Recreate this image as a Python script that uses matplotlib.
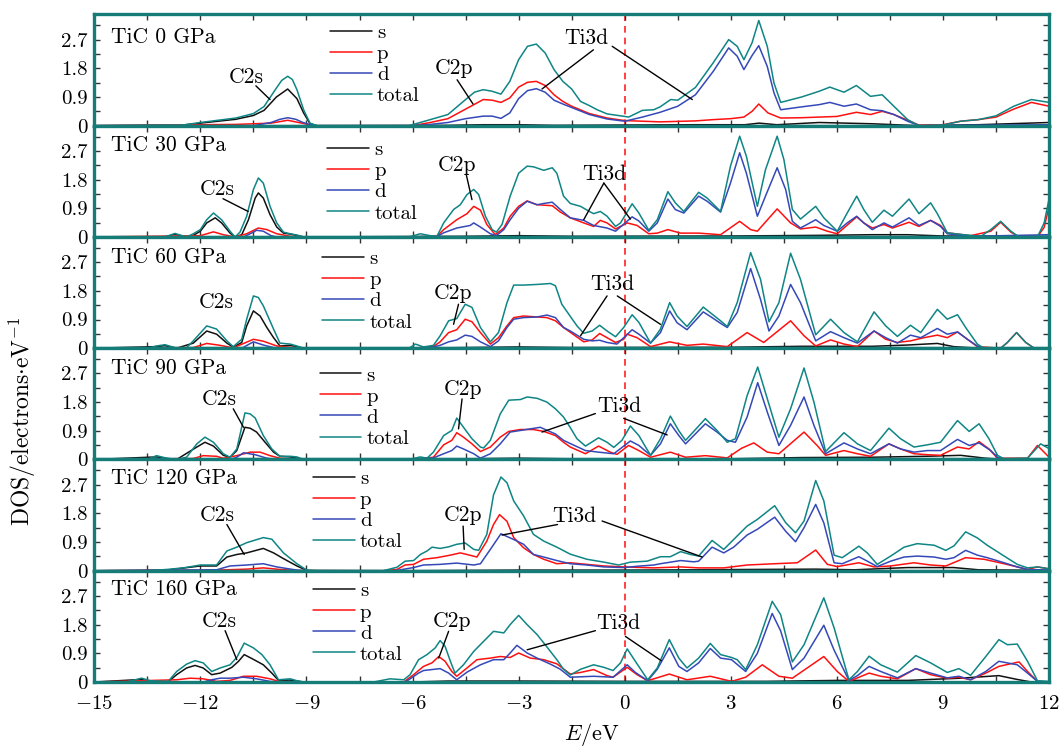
import numpy as np
import matplotlib
matplotlib.use('Agg')
import matplotlib.pyplot as plt
from matplotlib.ticker import MultipleLocator, FuncFormatter

# (E [eV], DOS) pairs, one list per curve and pressure
tot_0 = [(-15, 0), (-12.5, 0.02), (-12, 0.1), (-11, 0.24), (-10.5, 0.38), (-10.2, 0.6), (-9.85, 1.18), (-9.7, 1.42),
         (-9.53, 1.55), (-9.4, 1.45), (-9.27, 1.13), (-9.08, 0.5), (-8.9, 0.08), (-8.7, 0), (-6.1, 0), (-5.5, 0.19),
         (-5, 0.35), (-4.5, 0.82), (-4.25, 1.05), (-4, 1.13), (-3.75, 1.08), (-3.5, 0.99), (-3.25, 1.39), (-3, 2.07),
         (-2.75, 2.49), (-2.5, 2.56), (-2.25, 2.28), (-2, 1.76), (-1.75, 1.39), (-1.5, 1.15), (-1.25, 0.76), (-1, 0.63),
         (-0.78, 0.5), (-0.5, 0.37), (0, 0.29), (0.11, 0.27), (0.5, 0.48), (0.82, 0.5), (1, 0.59), (1.3, 0.82),
         (1.5, 0.8), (2, 1.2), (2.5, 1.97), (2.94, 2.7), (3.18, 2.49), (3.37, 2.07), (3.6, 2.6), (3.79, 3.3),
         (4.03, 2.49), (4.22, 1.34), (4.41, 0.73), (5, 0.9), (5.5, 1.08), (5.8, 1.21), (6.2, 1.05), (6.55, 1.26),
         (6.95, 0.92), (7.28, 0.97), (7.61, 0.61), (8, 0.19), (8.32, 0), (9, 0.02), (9.5, 0.14), (10, 0.19),
         (10.5, 0.31), (11, 0.61), (11.5, 0.82), (12, 0.73)]
d_0 = [(-15, 0), (-10.5, 0), (-10, 0.1), (-9.75, 0.2), (-9.53, 0.25), (-9.3, 0.2), (-9.1, 0.1), (-8.8, 0), (-6, 0),
       (-5.5, 0.04), (-5, 0.1), (-4.5, 0.22), (-4, 0.3), (-3.75, 0.3), (-3.5, 0.23), (-3.25, 0.4), (-3, 0.85),
       (-2.75, 1.1), (-2.5, 1.16), (-2.25, 1.05), (-2, 0.8), (-1.75, 0.68), (-1.5, 0.57), (-1, 0.35), (-0.5, 0.21),
       (0, 0.14), (0.5, 0.27), (1, 0.42), (1.5, 0.61), (2, 0.97), (2.5, 1.7), (2.94, 2.44), (3.18, 2.18),
       (3.37, 1.76), (3.6, 2.2), (3.79, 2.51), (4.03, 1.86), (4.22, 1.03), (4.41, 0.5), (5, 0.59), (5.5, 0.66),
       (5.8, 0.73), (6.2, 0.61), (6.55, 0.68), (6.95, 0.5), (7.28, 0.47), (7.61, 0.35), (8, 0.14), (8.32, 0),
       (12, 0.03)]
p_0 = [(-15, 0), (-11, 0.04), (-10, 0.08), (-9.53, 0.17), (-9, 0.05), (-8.8, 0), (-6, 0), (-5.5, 0.1), (-5, 0.22),
       (-4.5, 0.52), (-4, 0.82), (-3.75, 0.8), (-3.5, 0.73), (-3.25, 0.87), (-3, 1.21), (-2.75, 1.36), (-2.5, 1.39),
       (-2.25, 1.26), (-2, 0.97), (-1.75, 0.76), (-1.5, 0.61), (-1, 0.38), (-0.5, 0.24), (0, 0.16), (0.5, 0.14),
       (1, 0.12), (2, 0.15), (2.5, 0.19), (3, 0.22), (3.37, 0.27), (3.6, 0.45), (3.79, 0.68), (4.05, 0.4),
       (4.41, 0.24), (5, 0.25), (5.5, 0.27), (6, 0.29), (6.55, 0.42), (6.95, 0.35), (7.28, 0.45), (7.61, 0.35),
       (8, 0.17), (8.32, 0.02), (9, 0.03), (9.5, 0.14), (10, 0.19), (10.5, 0.27), (11, 0.52), (11.5, 0.73),
       (12, 0.61)]
s_0 = [(-15, 0), (-12.5, 0.02), (-12, 0.08), (-11, 0.2), (-10.5, 0.32), (-10.2, 0.48), (-9.85, 0.9), (-9.53, 1.15),
       (-9.27, 0.85), (-9.08, 0.4), (-8.9, 0.06), (-8.7, 0), (-5, 0.01), (-4, 0.03), (-3, 0.03), (-2, 0.01),
       (0, 0.02), (2, 0.03), (3.4, 0.03), (3.8, 0.08), (4.3, 0.03), (5.5, 0.1), (7, 0.06), (8.3, 0), (10, 0.03),
       (12, 0.1)]

tot_30 = [(-15, 0), (-13.0, 0), (-12.72, 0.11), (-12.39, 0), (-12.2, 0.1), (-12, 0.23), (-11.82, 0.54),
          (-11.63, 0.75), (-11.4, 0.54), (-11.16, 0.18), (-11.02, 0), (-10.88, 0.15), (-10.69, 0.65), (-10.5, 1.49),
          (-10.36, 1.85), (-10.22, 1.69), (-10.03, 0.96), (-9.84, 0.44), (-9.65, 0.15), (-9.46, 0.1), (-9.27, 0.06),
          (-9.08, 0), (-6.1, 0), (-5.78, 0.1), (-5.5, 0.04), (-5.31, 0.02), (-5.12, 0.44), (-4.84, 0.86),
          (-4.65, 1.01), (-4.46, 1.33), (-4.27, 1.49), (-4.13, 1.33), (-3.94, 0.65), (-3.75, 0.23), (-3.63, 0.15),
          (-3.47, 0.39), (-3.24, 1.28), (-3, 2.0), (-2.76, 2.22), (-2.58, 2.2), (-2.29, 2.09), (-2.05, 2.17),
          (-1.92, 2.0), (-1.73, 1.28), (-1.54, 1.05), (-1.25, 0.96), (-1, 0.8), (-0.88, 0.73), (-0.69, 0.8),
          (-0.5, 0.65), (-0.26, 0.33), (-0.12, 0.44), (0.21, 1.04), (0.4, 0.75), (0.68, 0.21), (0.92, 0.54),
          (1.22, 1.42), (1.43, 1.07), (1.67, 0.8), (2.09, 1.4), (2.33, 1.22), (2.71, 0.8), (2.99, 2.22), (3.25, 3.16),
          (3.44, 2.53), (3.75, 0.96), (3.98, 2.11), (4.31, 3.16), (4.5, 2.43), (4.74, 0.86), (4.97, 0.56), (5.4, 0.96),
          (5.63, 0.6), (6.01, 0.18), (6.29, 0.75), (6.56, 1.28), (6.76, 0.86), (7.0, 0.46), (7.33, 0.84),
          (7.57, 0.65), (8.04, 1.19), (8.32, 0.73), (8.65, 1.07), (8.84, 0.73), (9.12, 0.13), (9.59, 0.07),
          (10.07, 0.02), (10.35, 0.23), (10.63, 0.49), (10.92, 0.18), (11.15, 0), (11.67, 0), (11.86, 0.44),
          (12, 1.2)]
d_30 = [(-15, 0), (-10.78, 0), (-10.5, 0.15), (-10.41, 0.21), (-10.22, 0.18), (-10.0, 0.04), (-9.84, 0), (-6, 0),
        (-5.3, 0.02), (-5.12, 0.13), (-4.75, 0.28), (-4.37, 0.36), (-4.27, 0.44), (-4.08, 0.31), (-3.8, 0.1),
        (-3.63, 0.04), (-3.42, 0.23), (-3.24, 0.54), (-3.0, 0.9), (-2.76, 1.12), (-2.48, 1.01), (-2.29, 1.05),
        (-2.05, 1.09), (-1.82, 0.86), (-1.54, 0.6), (-1.16, 0.52), (-0.88, 0.36), (-0.5, 0.28), (-0.26, 0.18),
        (0.21, 0.63), (0.4, 0.5), (0.68, 0.18), (0.92, 0.44), (1.22, 1.19), (1.43, 0.86), (1.67, 0.75), (2.09, 1.28),
        (2.33, 1.12), (2.71, 0.78), (2.99, 1.69), (3.25, 2.64), (3.44, 2.0), (3.75, 0.65), (3.98, 1.28),
        (4.31, 2.17), (4.55, 1.49), (4.74, 0.49), (4.97, 0.28), (5.4, 0.54), (5.63, 0.36), (6.01, 0.18),
        (6.29, 0.44), (6.56, 0.65), (6.76, 0.44), (7.0, 0.23), (7.33, 0.44), (7.57, 0.31), (8.04, 0.6), (8.32, 0.36),
        (8.65, 0.52), (8.93, 0.33), (9.12, 0.1), (9.78, 0.02), (12, 0.07)]
p_30 = [(-15, 0), (-12, 0.04), (-11.63, 0.16), (-11.35, 0.07), (-11.02, 0), (-10.69, 0.1), (-10.36, 0.28),
        (-10.12, 0.23), (-9.84, 0.1), (-9.46, 0.02), (-9.0, 0), (-6, 0), (-5.31, 0.02), (-5.12, 0.23), (-4.75, 0.54),
        (-4.46, 0.73), (-4.27, 0.96), (-4.08, 0.84), (-3.9, 0.39), (-3.66, 0.07), (-3.42, 0.28), (-3.24, 0.65),
        (-3.0, 0.96), (-2.76, 1.13), (-2.48, 1.01), (-2.05, 0.98), (-1.82, 0.78), (-1.54, 0.6), (-1.16, 0.44),
        (-0.88, 0.33), (-0.69, 0.52), (-0.5, 0.44), (-0.26, 0.25), (0.07, 0.44), (0.35, 0.36), (0.68, 0.1),
        (0.92, 0.12), (1.22, 0.23), (1.58, 0.12), (2.09, 0.12), (2.71, 0.07), (3.25, 0.49), (3.56, 0.23),
        (3.75, 0.18), (4.31, 0.88), (4.69, 0.44), (4.97, 0.25), (5.4, 0.31), (5.73, 0.18), (6.01, 0.1), (6.56, 0.63),
        (6.76, 0.44), (7.0, 0.28), (7.33, 0.39), (7.57, 0.28), (8.04, 0.46), (8.32, 0.33), (8.65, 0.52),
        (8.93, 0.36), (9.12, 0.13), (9.78, 0.04), (10.35, 0.18), (10.63, 0.46), (10.92, 0.15), (11.15, 0),
        (11.67, 0), (11.86, 0.3), (12, 0.96)]
s_30 = [(-15, 0), (-13.0, 0), (-12.72, 0.08), (-12.39, 0), (-12.2, 0.05), (-12, 0.18), (-11.82, 0.44),
        (-11.58, 0.6), (-11.4, 0.44), (-11.16, 0.12), (-11.02, 0), (-10.83, 0.07), (-10.64, 0.54), (-10.45, 1.22),
        (-10.36, 1.38), (-10.22, 1.22), (-10.03, 0.7), (-9.84, 0.31), (-9.65, 0.12), (-9.46, 0.09), (-9.08, 0),
        (-4.5, 0.02), (-3, 0.04), (-1.5, 0.02), (3.0, 0.03), (5.5, 0.05), (7, 0.07), (8, 0.07), (9, 0.03),
        (12, 0.02)]

tot_60 = [(-15, 0), (-13.5, 0), (-13.24, 0.07), (-13.0, 0.11), (-12.67, 0), (-12.39, 0.02), (-12.2, 0.23),
          (-11.82, 0.7), (-11.54, 0.6), (-11.25, 0.23), (-11.07, 0.05), (-10.83, 0.28), (-10.69, 0.91), (-10.5, 1.64),
          (-10.36, 1.59), (-10.22, 1.33), (-9.93, 0.6), (-9.75, 0.16), (-9.46, 0.13), (-9.27, 0.07), (-9.08, 0),
          (-6.1, 0), (-5.92, 0.13), (-5.69, 0.04), (-5.41, 0.09), (-5.22, 0.39), (-4.98, 0.86), (-4.75, 0.93),
          (-4.51, 1.38), (-4.32, 1.28), (-4.08, 0.65), (-3.8, 0.2), (-3.57, 0.49), (-3.33, 1.43), (-3.14, 1.98),
          (-2.86, 1.98), (-2.48, 2.0), (-2.1, 2.03), (-1.96, 1.96), (-1.78, 1.38), (-1.54, 1.0), (-1.35, 0.7),
          (-1.16, 0.47), (-0.92, 0.54), (-0.71, 0.72), (-0.5, 0.54), (-0.26, 0.36), (-0.03, 0.65), (0.21, 1.05),
          (0.4, 0.81), (0.73, 0.16), (1.01, 0.6), (1.27, 1.43), (1.48, 1.01), (1.76, 0.68), (2.22, 1.29), (2.47, 1.07),
          (2.71, 0.86), (2.9, 0.68), (3.18, 1.43), (3.56, 3.0), (3.84, 2.16), (4.08, 0.83), (4.36, 1.43), (4.69, 2.98),
          (4.97, 2.16), (5.4, 0.42), (5.82, 0.91), (6.2, 0.49), (6.58, 0.2), (7.05, 1.14), (7.38, 0.7), (7.71, 0.37),
          (8.08, 0.72), (8.37, 0.49), (8.84, 1.22), (9.12, 0.91), (9.41, 1.05), (9.64, 0.65), (9.97, 0.13),
          (10.16, 0), (10.63, 0), (10.82, 0.18), (11.08, 0.49), (11.34, 0.18), (11.58, 0), (12, 0)]
d_60 = [(-15, 0), (-10.83, 0), (-10.5, 0.2), (-10.22, 0.1), (-9.93, 0.02), (-9.75, 0), (-6, 0), (-5.41, 0.04),
        (-5.22, 0.09), (-4.98, 0.2), (-4.75, 0.26), (-4.51, 0.41), (-4.32, 0.37), (-4.08, 0.2), (-3.8, 0.05),
        (-3.57, 0.23), (-3.33, 0.65), (-3.14, 0.91), (-2.86, 0.96), (-2.48, 0.98), (-2.2, 1.04), (-1.96, 0.96),
        (-1.73, 0.65), (-1.54, 0.54), (-1.16, 0.28), (-0.92, 0.23), (-0.71, 0.25), (-0.5, 0.18), (-0.22, 0.13),
        (0.21, 0.58), (0.4, 0.44), (0.73, 0.16), (1.01, 0.49), (1.27, 1.17), (1.48, 0.8), (1.76, 0.58), (2.22, 1.14),
        (2.47, 0.96), (2.71, 0.78), (2.9, 0.65), (3.18, 1.12), (3.56, 2.5), (3.84, 1.53), (4.08, 0.54), (4.36, 1.01),
        (4.69, 2.0), (4.97, 1.43), (5.4, 0.23), (5.82, 0.52), (6.2, 0.33), (6.58, 0.16), (7.05, 0.54), (7.38, 0.33),
        (7.71, 0.16), (8.08, 0.41), (8.37, 0.33), (8.84, 0.62), (9.12, 0.44), (9.41, 0.51), (9.69, 0.28),
        (9.97, 0.07), (10.16, 0), (12, 0)]
p_60 = [(-15, 0), (-12.2, 0.02), (-11.82, 0.15), (-11.44, 0.09), (-11.07, 0.01), (-10.5, 0.28), (-10.22, 0.22),
        (-9.84, 0.07), (-9.46, 0.03), (-9.08, 0), (-6, 0), (-5.41, 0.05), (-5.22, 0.2), (-4.98, 0.49), (-4.75, 0.58),
        (-4.51, 0.91), (-4.32, 0.83), (-4.08, 0.49), (-3.8, 0.13), (-3.57, 0.33), (-3.33, 0.7), (-3.14, 0.96),
        (-2.86, 1.01), (-2.48, 0.98), (-2.2, 0.96), (-1.96, 0.86), (-1.73, 0.65), (-1.54, 0.5), (-1.16, 0.2),
        (-0.92, 0.26), (-0.71, 0.46), (-0.5, 0.33), (-0.26, 0.18), (-0.03, 0.28), (0.07, 0.44), (0.35, 0.33),
        (0.73, 0.05), (1.27, 0.2), (1.76, 0.09), (2.22, 0.13), (2.9, 0.05), (3.46, 0.49), (3.93, 0.18), (4.69, 0.86),
        (5.07, 0.39), (5.4, 0.07), (5.82, 0.26), (6.2, 0.13), (6.58, 0.05), (7.05, 0.54), (7.38, 0.28), (7.71, 0.18),
        (8.08, 0.23), (8.46, 0.33), (8.84, 0.41), (9.12, 0.33), (9.41, 0.51), (9.69, 0.28), (9.97, 0.05), (10.63, 0),
        (10.82, 0.18), (11.08, 0.49), (11.34, 0.18), (11.58, 0), (12, 0)]
s_60 = [(-15, 0), (-13.24, 0.05), (-13.0, 0.08), (-12.67, 0), (-12.2, 0.16), (-11.82, 0.54), (-11.54, 0.44),
        (-11.25, 0.16), (-11.07, 0.03), (-10.83, 0.18), (-10.69, 0.7), (-10.5, 1.17), (-10.31, 1.01), (-10.12, 0.65),
        (-9.93, 0.33), (-9.75, 0.07), (-9.46, 0.09), (-9.08, 0), (-6, 0), (-3, 0.04), (-1.5, 0.02), (3, 0.03),
        (5, 0.06), (7, 0.06), (8, 0.1), (8.84, 0.15), (9.3, 0.05), (10, 0), (12, 0)]

tot_90 = [(-15, 0), (-13.5, 0), (-13.24, 0.12), (-12.95, 0.04), (-12.67, 0), (-12.39, 0.07), (-12.1, 0.49),
          (-11.87, 0.7), (-11.63, 0.54), (-11.35, 0.18), (-11.16, 0.07), (-10.97, 0.33), (-10.74, 1.46),
          (-10.59, 1.43), (-10.45, 1.3), (-10.22, 0.75), (-9.98, 0.33), (-9.75, 0.1), (-9.46, 0.1), (-9.27, 0.08),
          (-9.08, 0), (-6.1, 0), (-5.78, 0.08), (-5.59, 0.04), (-5.41, 0.23), (-5.12, 0.75), (-4.89, 0.91),
          (-4.75, 1.3), (-4.56, 1.01), (-4.32, 0.65), (-4.08, 0.39), (-3.99, 0.36), (-3.8, 0.6), (-3.52, 1.43),
          (-3.28, 1.86), (-2.95, 1.88), (-2.76, 1.96), (-2.48, 1.92), (-2.2, 1.8), (-1.96, 1.59), (-1.73, 1.33),
          (-1.54, 1.0), (-1.35, 0.65), (-1.11, 0.42), (-0.74, 0.68), (-0.5, 0.54), (-0.31, 0.38), (-0.08, 0.6),
          (0.16, 1.05), (0.4, 0.75), (0.73, 0.13), (1.01, 0.65), (1.29, 1.36), (1.53, 0.9), (1.72, 0.6), (2.28, 1.28),
          (2.61, 0.91), (2.9, 0.54), (3.13, 0.65), (3.46, 2.0), (3.76, 2.9), (4.03, 1.91), (4.36, 0.7), (4.69, 1.59),
          (5.07, 2.87), (5.35, 1.8), (5.68, 0.25), (6.2, 0.84), (6.58, 0.49), (6.95, 0.28), (7.47, 0.98), (7.8, 0.65),
          (8.18, 0.39), (8.56, 0.46), (8.93, 0.54), (9.41, 1.22), (9.74, 0.88), (10.02, 1.12), (10.3, 0.65),
          (10.54, 0.13), (10.73, 0.02), (11.39, 0.04), (11.76, 0.49), (12, 0.34)]
d_90 = [(-15, 0), (-11.16, 0), (-10.97, 0.07), (-10.78, 0.21), (-10.45, 0.15), (-10.12, 0.04), (-9.84, 0), (-6, 0),
        (-5.41, 0.05), (-5.12, 0.18), (-4.89, 0.28), (-4.75, 0.42), (-4.56, 0.33), (-4.27, 0.18), (-4.08, 0.04),
        (-3.8, 0.18), (-3.52, 0.49), (-3.24, 0.86), (-2.95, 0.91), (-2.67, 0.96), (-2.39, 1.01), (-1.96, 0.8),
        (-1.73, 0.6), (-1.54, 0.5), (-1.11, 0.28), (-0.74, 0.23), (-0.31, 0.18), (0.16, 0.58), (0.4, 0.44),
        (0.73, 0.13), (1.01, 0.49), (1.29, 1.12), (1.53, 0.75), (1.72, 0.49), (2.28, 1.12), (2.61, 0.86), (2.9, 0.6),
        (3.13, 0.54), (3.46, 1.33), (3.76, 2.41), (4.03, 1.49), (4.36, 0.44), (4.69, 1.07), (5.07, 1.96),
        (5.35, 1.07), (5.68, 0.18), (6.2, 0.52), (6.58, 0.33), (6.95, 0.18), (7.47, 0.49), (7.8, 0.33), (8.18, 0.23),
        (8.56, 0.28), (8.93, 0.28), (9.41, 0.63), (9.74, 0.44), (10.02, 0.52), (10.35, 0.28), (10.54, 0.07),
        (10.73, 0), (12, 0)]
p_90 = [(-15, 0), (-12.2, 0.03), (-11.92, 0.12), (-11.54, 0.1), (-11.35, 0.04), (-10.97, 0.12), (-10.59, 0.23),
        (-10.31, 0.23), (-10.03, 0.12), (-9.75, 0.04), (-9.3, 0), (-6, 0), (-5.41, 0.07), (-5.12, 0.46),
        (-4.89, 0.6), (-4.75, 0.84), (-4.56, 0.7), (-4.32, 0.49), (-4.08, 0.25), (-3.8, 0.39), (-3.52, 0.7),
        (-3.28, 0.88), (-2.95, 0.94), (-2.58, 0.94), (-2.29, 0.88), (-1.96, 0.75), (-1.73, 0.54), (-1.54, 0.39),
        (-1.11, 0.18), (-0.74, 0.42), (-0.41, 0.23), (-0.22, 0.16), (0.11, 0.44), (0.4, 0.28), (0.73, 0.07),
        (1.29, 0.23), (1.72, 0.07), (2.28, 0.12), (2.9, 0.05), (3.3, 0.35), (3.65, 0.52), (4.03, 0.23), (4.36, 0.18),
        (5.07, 0.86), (5.44, 0.44), (5.68, 0.13), (6.2, 0.28), (6.58, 0.18), (6.95, 0.1), (7.47, 0.49), (7.8, 0.33),
        (8.18, 0.18), (8.56, 0.15), (8.93, 0.13), (9.41, 0.39), (9.74, 0.33), (10.02, 0.56), (10.3, 0.33),
        (10.54, 0.04), (11.39, 0.04), (11.67, 0.44), (12, 0.07)]
s_90 = [(-15, 0), (-13.24, 0.08), (-12.95, 0.03), (-12.67, 0), (-12.1, 0.39), (-11.87, 0.54), (-11.63, 0.42),
        (-11.35, 0.13), (-11.16, 0.07), (-10.97, 0.28), (-10.74, 1.01), (-10.59, 0.98), (-10.41, 0.86),
        (-10.17, 0.54), (-9.93, 0.23), (-9.75, 0.1), (-9.46, 0.08), (-9.08, 0), (-6, 0), (-3, 0.04), (-1.5, 0.02),
        (3, 0.02), (5, 0.06), (7, 0.07), (8.5, 0.1), (9.5, 0.13), (10.2, 0.04), (10.7, 0), (12, 0)]

tot_120 = [(-15, 0), (-13.5, 0), (-12.95, 0.04), (-12.48, 0.09), (-12.0, 0.18), (-11.54, 0.18), (-11.25, 0.62),
           (-10.97, 0.74), (-10.69, 0.88), (-10.22, 1.04), (-9.98, 0.99), (-9.65, 0.56), (-9.27, 0.22),
           (-8.99, 0.02), (-8.71, 0), (-6.83, 0), (-6.44, 0.11), (-6.21, 0.3), (-5.97, 0.32), (-5.78, 0.51),
           (-5.59, 0.62), (-5.45, 0.74), (-5.22, 0.7), (-4.98, 0.75), (-4.75, 0.83), (-4.51, 0.87), (-4.27, 0.67),
           (-4.13, 0.64), (-3.9, 1.14), (-3.71, 2.38), (-3.5, 2.94), (-3.33, 2.76), (-3.14, 2.19), (-2.86, 1.72),
           (-2.58, 1.14), (-2.29, 0.93), (-1.92, 0.74), (-1.54, 0.52), (-1.07, 0.36), (-0.59, 0.27), (-0.17, 0.18),
           (0.16, 0.27), (0.63, 0.3), (1.01, 0.44), (1.29, 0.44), (1.58, 0.6), (1.86, 0.51), (2.09, 0.46),
           (2.47, 0.95), (2.8, 0.67), (3.08, 0.98), (3.46, 1.4), (3.75, 1.61), (4.24, 2.04), (4.55, 1.51),
           (4.83, 1.19), (5.07, 1.56), (5.4, 2.83), (5.63, 2.19), (5.92, 0.49), (6.15, 0.41), (6.62, 0.77),
           (6.86, 0.56), (7.14, 0.2), (7.52, 0.46), (7.9, 0.74), (8.27, 0.85), (8.75, 0.8), (9.08, 0.64), (9.31, 0.78),
           (9.64, 1.22), (9.97, 1.03), (10.25, 0.8), (10.73, 0.46), (11.1, 0.2), (11.39, 0.09), (11.67, 0.12),
           (12, 0.06)]
d_120 = [(-15, 0), (-11.54, 0.03), (-11.16, 0.15), (-10.69, 0.18), (-10.22, 0.22), (-9.84, 0.12), (-9.27, 0.02),
         (-8.99, 0), (-6.5, 0), (-5.97, 0.1), (-5.69, 0.18), (-5.22, 0.2), (-4.75, 0.24), (-4.27, 0.18),
         (-4.08, 0.22), (-3.8, 0.67), (-3.5, 1.16), (-3.14, 0.98), (-2.86, 0.83), (-2.58, 0.51), (-2.29, 0.43),
         (-1.92, 0.32), (-1.54, 0.22), (-1.07, 0.18), (-0.59, 0.12), (-0.03, 0.1), (0.35, 0.14), (0.82, 0.18),
         (1.01, 0.22), (1.58, 0.32), (1.95, 0.28), (2.09, 0.3), (2.47, 0.74), (2.8, 0.56), (3.08, 0.74), (3.46, 1.12),
         (3.75, 1.3), (4.24, 1.68), (4.55, 1.24), (4.83, 0.91), (5.07, 1.35), (5.4, 2.08), (5.63, 1.5), (5.92, 0.25),
         (6.15, 0.22), (6.62, 0.44), (6.86, 0.3), (7.14, 0.13), (7.52, 0.3), (7.9, 0.43), (8.27, 0.46), (8.75, 0.43),
         (9.08, 0.36), (9.31, 0.41), (9.64, 0.64), (9.97, 0.49), (10.25, 0.41), (10.73, 0.25), (11.1, 0.12),
         (11.39, 0.04), (12, 0.02)]
p_120 = [(-15, 0), (-11.54, 0.02), (-10.69, 0.05), (-10.22, 0.09), (-9.75, 0.04), (-9.27, 0.01), (-8.9, 0),
         (-6.83, 0), (-6.44, 0.04), (-6.21, 0.18), (-5.97, 0.2), (-5.69, 0.36), (-5.31, 0.41), (-4.93, 0.49),
         (-4.65, 0.56), (-4.46, 0.51), (-4.18, 0.43), (-3.9, 0.93), (-3.71, 1.45), (-3.54, 1.76), (-3.33, 1.55),
         (-3.14, 1.04), (-2.86, 0.72), (-2.58, 0.51), (-2.29, 0.36), (-1.92, 0.22), (-1.54, 0.25), (-1.07, 0.2),
         (-0.59, 0.15), (-0.03, 0.12), (0.82, 0.09), (1.58, 0.12), (2.09, 0.09), (2.8, 0.09), (3.46, 0.18),
         (4.24, 0.22), (4.88, 0.25), (5.4, 0.65), (5.73, 0.2), (6.01, 0.13), (6.62, 0.25), (7.05, 0.12),
         (7.52, 0.15), (8.18, 0.25), (8.65, 0.18), (9.08, 0.15), (9.64, 0.41), (10.16, 0.36), (10.73, 0.22),
         (11.1, 0.12), (11.39, 0.04), (11.67, 0.12), (12, 0.06)]
s_120 = [(-15, 0), (-12.95, 0.02), (-12.0, 0.15), (-11.54, 0.15), (-11.25, 0.43), (-10.97, 0.51), (-10.69, 0.56),
         (-10.22, 0.7), (-9.93, 0.56), (-9.65, 0.38), (-9.27, 0.15), (-8.99, 0.01), (-6, 0), (-3, 0.02), (0, 0.02),
         (5.4, 0.05), (6.5, 0.03), (8, 0.1), (9.3, 0.1), (10, 0.03), (12, 0.01)]

tot_160 = [(-15, 0), (-14.1, 0), (-13.66, 0.12), (-13.42, 0.04), (-12.91, 0.02), (-12.67, 0.33), (-12.39, 0.56),
           (-12.15, 0.67), (-11.92, 0.6), (-11.68, 0.33), (-11.44, 0.44), (-11.16, 0.54), (-10.97, 0.77),
           (-10.76, 1.22), (-10.5, 1.07), (-10.26, 0.86), (-10.03, 0.54), (-9.79, 0.07), (-9.46, 0.1), (-9.27, 0.04),
           (-9.08, 0), (-7.1, 0), (-6.64, 0.1), (-6.25, 0.07), (-6.07, 0.23), (-5.83, 0.7), (-5.59, 0.86),
           (-5.36, 1.07), (-5.22, 1.3), (-5.08, 1.12), (-4.93, 0.65), (-4.8, 0.28), (-4.56, 0.54), (-4.27, 0.96),
           (-4.04, 1.22), (-3.71, 1.59), (-3.42, 1.54), (-3.24, 1.8), (-3.0, 2.09), (-2.76, 1.8), (-2.48, 1.49),
           (-2.2, 1.1), (-1.92, 0.7), (-1.73, 0.4), (-1.54, 0.22), (-1.25, 0.4), (-0.88, 0.54), (-0.59, 0.46),
           (-0.33, 0.36), (-0.12, 0.6), (0.07, 1.04), (0.3, 0.65), (0.65, 0.07), (0.92, 0.44), (1.26, 1.33),
           (1.53, 0.75), (1.76, 0.44), (2.09, 0.75), (2.42, 1.21), (2.71, 0.86), (3.02, 0.77), (3.18, 0.7),
           (3.42, 0.39), (3.75, 1.17), (4.17, 2.53), (4.41, 2.11), (4.74, 0.63), (5.07, 1.17), (5.63, 2.64),
           (5.92, 1.7), (6.34, 0.07), (6.58, 0.33), (6.91, 0.81), (7.24, 0.54), (7.71, 0.31), (8.23, 0.83),
           (8.65, 0.6), (9.12, 0.3), (9.45, 0.42), (9.78, 0.21), (10.21, 0.8), (10.58, 1.33), (10.82, 1.17),
           (11.1, 1.19), (11.39, 0.65), (11.67, 0.04), (12, 0.02)]
d_160 = [(-15, 0), (-11.92, 0), (-11.68, 0.07), (-11.44, 0.12), (-11.16, 0.12), (-10.78, 0.15), (-10.41, 0.1),
         (-10.03, 0.02), (-9.8, 0), (-6.2, 0), (-5.83, 0.28), (-5.69, 0.36), (-5.22, 0.42), (-4.98, 0.28),
         (-4.75, 0.07), (-4.46, 0.31), (-4.08, 0.54), (-3.71, 0.7), (-3.42, 0.7), (-3.24, 0.91), (-3.05, 1.15),
         (-2.76, 0.91), (-2.48, 0.75), (-2.1, 0.56), (-1.82, 0.4), (-1.54, 0.15), (-0.88, 0.18), (-0.33, 0.15),
         (0.07, 0.54), (0.3, 0.3), (0.65, 0.04), (0.92, 0.4), (1.26, 1.07), (1.53, 0.49), (1.76, 0.33), (2.09, 0.6),
         (2.42, 1.05), (2.71, 0.75), (3.02, 0.7), (3.42, 0.33), (3.75, 0.9), (4.17, 2.15), (4.41, 1.6), (4.74, 0.39),
         (5.07, 0.75), (5.63, 1.78), (5.92, 1.0), (6.34, 0.05), (6.58, 0.2), (6.91, 0.49), (7.24, 0.33),
         (7.71, 0.13), (8.23, 0.42), (8.65, 0.28), (9.12, 0.13), (9.45, 0.18), (9.78, 0.07), (10.21, 0.33),
         (10.58, 0.65), (11.1, 0.54), (11.39, 0.28), (11.67, 0.02), (12, 0)]
p_160 = [(-15, 0), (-12.67, 0.07), (-12.29, 0.12), (-11.92, 0.1), (-11.54, 0.02), (-11.16, 0.05), (-10.78, 0.18),
         (-10.41, 0.18), (-10.03, 0.1), (-9.79, 0.02), (-9.4, 0), (-6.25, 0), (-5.97, 0.23), (-5.69, 0.49),
         (-5.45, 0.6), (-5.26, 0.8), (-5.08, 0.65), (-4.89, 0.33), (-4.75, 0.18), (-4.46, 0.44), (-4.18, 0.7),
         (-3.8, 0.75), (-3.52, 0.8), (-3.24, 0.77), (-3.0, 0.91), (-2.67, 0.75), (-2.29, 0.7), (-1.92, 0.57),
         (-1.54, 0.25), (-1.25, 0.3), (-0.88, 0.39), (-0.5, 0.2), (-0.33, 0.15), (0.07, 0.46), (0.35, 0.23),
         (0.65, 0.04), (1.26, 0.25), (1.76, 0.07), (2.42, 0.18), (3.02, 0.02), (3.42, 0.15), (3.89, 0.54),
         (4.36, 0.18), (4.74, 0.12), (5.63, 0.8), (6.01, 0.33), (6.34, 0.02), (6.91, 0.28), (7.24, 0.18),
         (7.71, 0.1), (8.23, 0.42), (8.65, 0.23), (9.12, 0.12), (9.45, 0.15), (9.78, 0.07), (10.21, 0.28),
         (10.58, 0.49), (11.15, 0.63), (11.39, 0.33), (11.67, 0.02), (12, 0)]
s_160 = [(-15, 0), (-13.66, 0.08), (-13.42, 0.02), (-12.91, 0.01), (-12.67, 0.23), (-12.39, 0.44), (-12.15, 0.52),
         (-11.92, 0.44), (-11.68, 0.23), (-11.44, 0.28), (-11.11, 0.46), (-10.92, 0.65), (-10.76, 0.86),
         (-10.5, 0.71), (-10.22, 0.54), (-9.98, 0.28), (-9.79, 0.05), (-9.46, 0.06), (-9.08, 0), (-6, 0), (-5, 0.03),
         (-3, 0.03), (0, 0.02), (4, 0.02), (6, 0.05), (8, 0.05), (9.5, 0.12), (10.58, 0.2), (11.1, 0.08),
         (11.5, 0), (12, 0)]

titles = ['TiC 0 GPa', 'TiC 30 GPa', 'TiC 60 GPa', 'TiC 90 GPa', 'TiC 120 GPa', 'TiC 160 GPa']

# label text position and the leader lines (start, end) in data coords
ann_0 = [('C2s', (-10.69, 1.52), [((-10.43, 1.25), (-10.03, 0.82))]),
         ('C2p', (-4.82, 1.79), [((-4.74, 1.44), (-4.29, 0.68))]),
         ('Ti3d', (-1.08, 2.73), [((-0.885, 2.38), (-2.34, 1.15)), ((-0.355, 2.49), (1.91, 0.82))])]
ann_30 = [('C2s', (-11.51, 1.51), [((-11.36, 1.2), (-10.65, 0.8))]),
          ('C2p', (-4.74, 2.25), [((-4.48, 1.95), (-4.32, 1.17))]),
          ('Ti3d', (-0.57, 1.98), [((-0.59, 1.69), (-1.16, 0.54)), ((-0.59, 1.69), (0.16, 0.56))])]
ann_60 = [('C2s', (-11.54, 1.43), []),
          ('C2p', (-4.85, 1.72), [((-4.70, 1.38), (-4.84, 0.75))]),
          ('Ti3d', (-0.355, 2.0), [((-0.50, 1.64), (-1.25, 0.39)), ((-0.21, 1.64), (1.01, 0.75))])]
ann_90 = [('C2s', (-11.47, 1.9), [((-11.07, 1.59), (-10.78, 1.01))]),
          ('C2p', (-4.56, 2.19), [((-4.60, 1.9), (-4.70, 0.96))]),
          ('Ti3d', (-0.15, 1.66), [((-0.83, 1.44), (-2.34, 0.86)), ((-0.03, 1.29), (1.2, 0.77))])]
ann_120 = [('C2s', (-11.51, 1.74), [((-11.25, 1.45), (-10.76, 0.51))]),
           ('C2p', (-4.58, 1.74), [((-4.57, 1.4), (-4.54, 0.67))]),
           ('Ti3d', (-1.42, 1.72), [((-1.9, 1.45), (-3.47, 1.12)), ((-0.64, 1.56), (2.19, 0.43))])]
ann_160 = [('C2s', (-11.47, 1.91), [((-11.30, 1.61), (-10.97, 0.7))]),
           ('C2p', (-4.88, 1.91), [((-4.98, 1.59), (-5.26, 0.75))]),
           ('Ti3d', (-0.17, 1.85), [((-0.83, 1.61), (-2.76, 1.01)), ((0.02, 1.43), (1.03, 0.67))])]

# legend anchor (axes fraction) per panel
leg_pos = [(0.247, 0.92), (0.244, 0.865), (0.239, 0.885), (0.236, 0.84), (0.229, 0.91), (0.229, 0.90)]
title_y = [0.74, 0.77, 0.77, 0.77, 0.78, 0.785]

panels = [(s_0, p_0, d_0, tot_0, ann_0), (s_30, p_30, d_30, tot_30, ann_30),
          (s_60, p_60, d_60, tot_60, ann_60), (s_90, p_90, d_90, tot_90, ann_90),
          (s_120, p_120, d_120, tot_120, ann_120), (s_160, p_160, d_160, tot_160, ann_160)]

teal = '#157c78'
colors = {'s': '#111111', 'p': '#ff1010', 'd': '#3548b8', 'total': '#0f8585'}

plt.rcParams['font.family'] = 'serif'
plt.rcParams['font.serif'] = ['cmr10']
plt.rcParams['mathtext.fontset'] = 'cm'
plt.rcParams['axes.unicode_minus'] = False


def xy(pts):
    a = np.array(pts, dtype=float)
    return a[:, 0], a[:, 1]


fig, axes = plt.subplots(6, 1, figsize=(10.64, 7.47), dpi=100, sharex=True)
fig.subplots_adjust(left=0.0886, right=0.986, top=0.9807, bottom=0.087, hspace=0)

for i, ax in enumerate(axes):
    s, p, d, tot, ann = panels[i]
    for name, pts in (('s', s), ('p', p), ('d', d), ('total', tot)):
        ax.plot(*xy(pts), color=colors[name], lw=1.1, label=name,
                solid_joinstyle='round', solid_capstyle='round')
    ax.axvline(0, color='#ff2020', ls=(0, (4, 3)), lw=1.2, zorder=1)

    ax.set_xlim(-15, 12)
    ax.set_ylim(0, 3.49)
    ax.xaxis.set_major_locator(MultipleLocator(3))
    ax.xaxis.set_minor_locator(MultipleLocator(1.5))
    ax.yaxis.set_major_locator(MultipleLocator(0.9))
    ax.yaxis.set_minor_locator(MultipleLocator(0.45))
    ax.yaxis.set_major_formatter(FuncFormatter(lambda v, pos: '0' if abs(v) < 1e-9 else '%.1f' % v))
    ax.xaxis.set_major_formatter(FuncFormatter(lambda v, pos: '$%d$' % round(v)))
    ax.tick_params(which='both', direction='in', top=True, right=True, length=4.5, width=1,
                   color='#333333', labelsize=15)
    ax.tick_params(axis='y', pad=5)
    ax.tick_params(axis='x', pad=9)
    for sp in ax.spines.values():
        sp.set_color(teal)
        sp.set_linewidth(2.4)

    ax.text(0.017, title_y[i], titles[i], transform=ax.transAxes, fontsize=15.5, va='baseline', ha='left')

    ax.legend(loc='upper left', bbox_to_anchor=leg_pos[i], frameon=False, fontsize=15,
              handlelength=2.0, handletextpad=0.25, labelspacing=0.12, borderpad=0, borderaxespad=0)

    for label, tpos, segs in ann:
        ax.text(tpos[0], tpos[1], label, fontsize=15.5, ha='center', va='center')
        for start, end in segs:
            ax.annotate('', xy=end, xytext=start,
                        arrowprops=dict(arrowstyle='-', color='black', lw=1.0, shrinkA=0, shrinkB=0))

fig.text(0.021, 0.436, r'DOS/electrons$\cdot$eV$^{-1}$', rotation=90, va='center', ha='center', fontsize=17)
fig.text(0.556, 0.017, r'$E$/eV', ha='center', va='center', fontsize=16)

fig.savefig('out.png', dpi=100)
